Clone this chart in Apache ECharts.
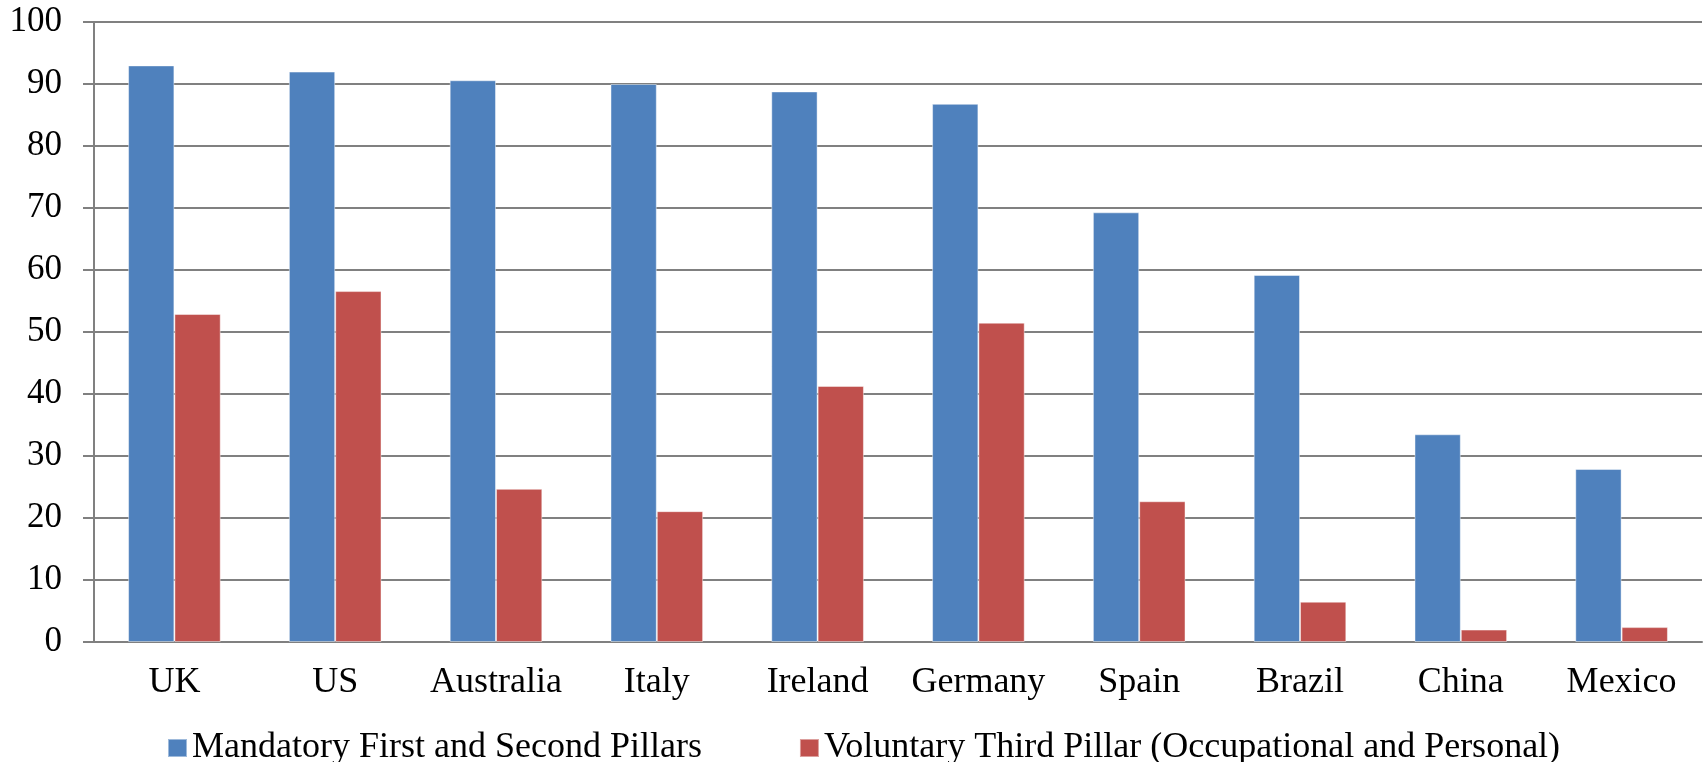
<!DOCTYPE html>
<html>
<head>
<meta charset="utf-8">
<script src="https://cdn.jsdelivr.net/npm/echarts@6/dist/echarts.min.js"></script>
<style>
  html, body { margin: 0; padding: 0; background: #fff; }
  #chart { width: 1708px; height: 762px; }
</style>
</head>
<body>
<div id="chart"></div>
<script>
// countries along the x axis
const countries = ["UK", "US", "Australia", "Italy", "Ireland", "Germany", "Spain", "Brazil", "China", "Mexico"];
// series values (percent)
const mandatory = [93.0, 92.0, 90.6, 90.0, 88.8, 86.8, 69.3, 59.2, 33.5, 27.9];
const voluntary = [52.9, 56.6, 24.7, 21.1, 41.3, 51.5, 22.7, 6.5, 2.0, 2.4];
const seriesNames = ["Mandatory First and Second Pillars", "Voluntary Third Pillar (Occupational and Personal)"];
// y axis ticks
const yMin = 0, yMax = 100, yStep = 10;

const chart = echarts.init(document.getElementById("chart"));
const font = "Liberation Serif";
const gray = "#808080";

chart.setOption({
  animation: false,
  textStyle: { fontFamily: font },
  grid: { left: 94, right: 6, top: 22, bottom: 120 },
  legend: {
    left: 162,
    top: 725,
    itemWidth: 19,
    itemHeight: 18,
    itemGap: 97,
    icon: "rect",
    textStyle: { fontFamily: font, fontSize: 36, color: "#000" },
    data: seriesNames
  },
  xAxis: {
    type: "category",
    data: countries,
    axisLine: { lineStyle: { color: gray, width: 2 } },
    axisTick: { length: 10, lineStyle: { color: gray, width: 2 } },
    axisLabel: { fontFamily: font, fontSize: 36, color: "#000", margin: 23, interval: 0 }
  },
  yAxis: {
    type: "value",
    min: yMin,
    max: yMax,
    interval: yStep,
    axisLine: { show: true, lineStyle: { color: gray, width: 2 } },
    axisTick: { show: true, length: 11, lineStyle: { color: gray, width: 2 } },
    axisLabel: { fontFamily: font, fontSize: 35, color: "#000", margin: 32 },
    splitLine: { lineStyle: { color: gray, width: 2 } }
  },
  series: [
    {
      name: seriesNames[0],
      type: "bar",
      data: mandatory,
      barWidth: "28.8%",
      barGap: "0%",
      itemStyle: { color: "#4F81BD", borderColor: "rgba(255,255,255,0.45)", borderWidth: 1 }
    },
    {
      name: seriesNames[1],
      type: "bar",
      data: voluntary,
      barWidth: "28.8%",
      barGap: "0%",
      itemStyle: { color: "#C0504D", borderColor: "rgba(255,255,255,0.45)", borderWidth: 1 }
    }
  ]
});
</script>
</body>
</html>
